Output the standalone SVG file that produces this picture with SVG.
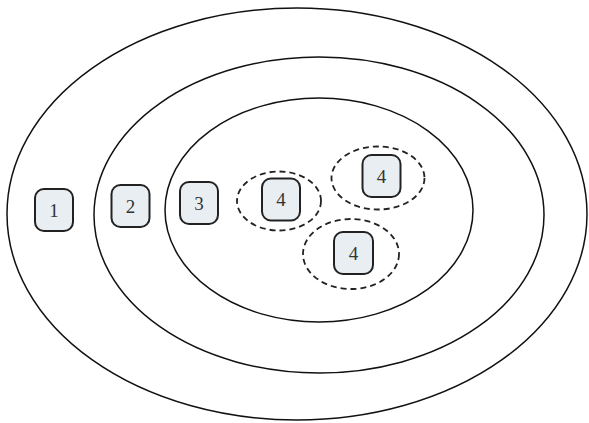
<svg xmlns="http://www.w3.org/2000/svg" width="589" height="423" viewBox="0 0 589 423">
<style>
.ring{fill:none;stroke:#111;stroke-width:1.5}
.dash{fill:none;stroke:#222;stroke-width:1.8;stroke-dasharray:6 4}
.box{fill:#e9eef2;stroke:#222;stroke-width:2}
.lbl{font-family:"Liberation Serif",serif;font-size:19px;fill:#333;text-anchor:middle;dominant-baseline:central}
</style>
<rect width="589" height="423" fill="#fff"/>
<g id="rings">
<ellipse class="ring" cx="297" cy="214" rx="290" ry="206"/>
<ellipse class="ring" cx="319" cy="215" rx="225" ry="158"/>
<ellipse class="ring" cx="319" cy="210" rx="154" ry="112"/>
</g>
<g id="groups">
<ellipse class="dash" cx="279" cy="201" rx="42" ry="29.5"/>
<ellipse class="dash" cx="378" cy="178" rx="46.5" ry="31.5"/>
<ellipse class="dash" cx="351" cy="254" rx="48" ry="35"/>
</g>
<g id="n1"><rect class="box" x="35" y="189" width="38" height="42" rx="9"/><text class="lbl" x="54" y="210">1</text></g>
<g id="n2"><rect class="box" x="111.5" y="185" width="38" height="42" rx="9"/><text class="lbl" x="130.5" y="206">2</text></g>
<g id="n3"><rect class="box" x="180" y="182" width="38" height="42" rx="9"/><text class="lbl" x="199" y="203">3</text></g>
<g id="n4a"><rect class="box" x="262" y="178.5" width="38" height="42" rx="9"/><text class="lbl" x="281" y="199.5">4</text></g>
<g id="n4b"><rect class="box" x="362.5" y="155" width="38" height="42" rx="9"/><text class="lbl" x="381.5" y="176">4</text></g>
<g id="n4c"><rect class="box" x="334" y="232" width="39" height="42" rx="9"/><text class="lbl" x="353.5" y="253">4</text></g>
<g id="connectors"/>
</svg>
